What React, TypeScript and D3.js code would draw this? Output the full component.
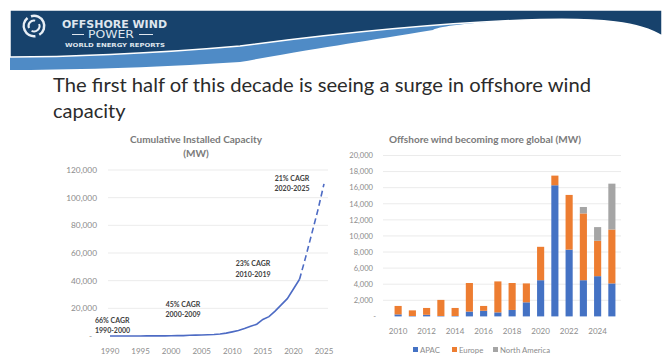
import React from "react";
import * as d3 from "d3";

// ---------- data ----------
const cumYears = [1990,1991,1992,1993,1994,1995,1996,1997,1998,1999,2000,2001,2002,2003,2004,2005,2006,2007,2008,2009,2010,2011,2012,2013,2014,2015,2016,2017,2018,2019,2020,2021];
const cumValues = [0,10,20,30,40,50,60,80,90,100,150,250,300,550,650,700,900,1100,1500,2100,3000,4000,5400,7000,8500,12000,14000,18000,22500,27000,34000,41000];
const forecastYears = [2021,2022,2023,2024,2025];
const forecastValues = [41000,57000,74000,91000,110000];
const leftYTicks = [0,20000,40000,60000,80000,100000,120000];
const leftXTicks = [1990,1995,2000,2005,2010,2015,2020,2025];
const cagrLabels = [
  { l1: "66% CAGR", l2: "1990-2000" },
  { l1: "45% CAGR", l2: "2000-2009" },
  { l1: "23% CAGR", l2: "2010-2019" },
  { l1: "21% CAGR", l2: "2020-2025" },
];

const barYears = [2010,2011,2012,2013,2014,2015,2016,2017,2018,2019,2020,2021,2022,2023,2024,2025];
const apac =   [250,50,200,50,50,600,700,500,800,1750,4500,16300,8300,4500,5000,4100];
const europe = [1050,700,850,2000,1000,3550,600,3850,3350,2350,4150,1200,6800,8300,4400,6700];
const northAmerica = [0,0,0,0,0,0,0,0,0,0,0,0,0,800,1700,5700];
const rightYTicks = [0,2000,4000,6000,8000,10000,12000,14000,16000,18000,20000];
const rightXTicks = [2010,2012,2014,2016,2018,2020,2022,2024];
const seriesNames = ["APAC","Europe","North America"];
const seriesColors = ["#4472C4","#ED7D31","#A5A5A5"];

const FONT = "Lato, 'Open Sans', sans-serif";
const fmt = d3.format(",");

export default function App() {
  // left chart scales
  const lx = d3.scaleLinear().domain([1990, 2025]).range([110, 324]);
  const ly = d3.scaleLinear().domain([0, 120000]).range([336, 170]);
  const line = d3.line<[number, number]>().x(d => lx(d[0])).y(d => ly(d[1]));
  const solid = line(cumYears.map((y, i) => [y, cumValues[i]] as [number, number]));
  const dashed = line(forecastYears.map((y, i) => [y, forecastValues[i]] as [number, number]));

  // right chart scales
  const bx = d3.scaleBand<number>().domain(barYears).range([391, 619]).paddingInner(0.5).paddingOuter(0.25);
  const by = d3.scaleLinear().domain([0, 20000]).range([316.4, 155.5]);
  const table = barYears.map((yr, i) => ({ year: yr, APAC: apac[i], Europe: europe[i], "North America": northAmerica[i] }));
  const stacks = d3.stack<any>().keys(seriesNames)(table);

  const cagrPos = [
    { x: 95, y: 320, anchor: "start" },
    { x: 183, y: 304, anchor: "middle" },
    { x: 253, y: 263.5, anchor: "middle" },
    { x: 292, y: 178, anchor: "middle" },
  ];

  return (
    <svg width={665} height={356} style={{ position: "absolute", left: 0, top: 0, background: "#fff" }} fontFamily={FONT}>
      {/* header banner */}
      <path d="M10,52 C60,52 150,50 240,44 C330,36 440,20 530,18 L560,18 C470,22 440,26 433,30 C360,42 330,46 240,62 C150,68 60,70 10,70 Z" fill="#4f8bc6" />
      <path d="M10,10 L662,10 L662,36 C640,22 600,18 540,19.5 C450,22 340,33 240,46 C150,54 60,57 10,57 Z" fill="#17426c" stroke="#ffffff" strokeWidth={1.5} />
      {/* logo */}
      <g transform="translate(34,26)">
        <path d={d3.arc()({ innerRadius: 9, outerRadius: 11.5, startAngle: -0.3, endAngle: 2.6 } as any) || ""} fill="#e8eef5" />
        <path d={d3.arc()({ innerRadius: 9, outerRadius: 11.5, startAngle: 3.0, endAngle: 5.6 } as any) || ""} fill="#e8eef5" />
        <path d={d3.arc()({ innerRadius: 4.5, outerRadius: 6.5, startAngle: 1.2, endAngle: 3.6 } as any) || ""} fill="#e8eef5" />
        <path d={d3.arc()({ innerRadius: 4.5, outerRadius: 6.5, startAngle: 4.3, endAngle: 6.5 } as any) || ""} fill="#e8eef5" />
      </g>
      <text x={62} y={28} fill="#dfe6ee" fontSize={10.5} fontWeight={700} textLength={105} lengthAdjust="spacingAndGlyphs" fontFamily="'DejaVu Sans', sans-serif">OFFSHORE WIND</text>
      <line x1={72} x2={84} y1={34.5} y2={34.5} stroke="#dfe6ee" strokeWidth={1} />
      <line x1={139} x2={153} y1={34.5} y2={34.5} stroke="#dfe6ee" strokeWidth={1} />
      <text x={88} y={38} fill="#dfe6ee" fontSize={10} textLength={46} lengthAdjust="spacingAndGlyphs" fontFamily="'DejaVu Sans', sans-serif">POWER</text>
      <text x={65} y={46.5} fill="#dfe6ee" fontSize={5.5} fontWeight={700} textLength={100} lengthAdjust="spacingAndGlyphs" fontFamily="'DejaVu Sans', sans-serif">WORLD ENERGY REPORTS</text>

      {/* slide title */}
      <text x={53} y={92} fontSize={20} fill="#2b2b2b" textLength={538} lengthAdjust="spacingAndGlyphs">The first half of this decade is seeing a surge in offshore wind</text>
      <text x={53} y={118} fontSize={20} fill="#2b2b2b">capacity</text>

      {/* ---------- left chart ---------- */}
      <text x={196} y={142.5} textAnchor="middle" fontSize={10} fontWeight={700} fill="#7a7a7a">Cumulative Installed Capacity</text>
      <text x={196} y={156.5} textAnchor="middle" fontSize={10} fontWeight={700} fill="#7a7a7a">(MW)</text>
      {leftYTicks.map(t => (
        <g key={"lg" + t}>
          {t > 0 && <line x1={108} x2={328} y1={ly(t)} y2={ly(t)} stroke="#e6e6e6" strokeWidth={0.8} />}
          <text x={t === 0 ? 92 : 97} y={ly(t) + 3} textAnchor="end" fontSize={8.3} fill="#8c8c8c">{t === 0 ? "-" : fmt(t)}</text>
        </g>
      ))}
      {leftXTicks.map(t => (
        <text key={"lx" + t} x={lx(t)} y={353.5} textAnchor="middle" fontSize={8} fill="#8c8c8c">{t}</text>
      ))}
      <path d={solid || ""} fill="none" stroke="#4d6bc4" strokeWidth={1.6} />
      <path d={dashed || ""} fill="none" stroke="#4d6bc4" strokeWidth={1.6} strokeDasharray="6,3.5" />
      {cagrLabels.map((c, i) => (
        <g key={"cg" + i}>
          <text x={cagrPos[i].x} y={cagrPos[i].y + 2.5} textAnchor={cagrPos[i].anchor as any} fontSize={7} fontWeight={700} fill="#404040">{c.l1}</text>
          <text x={cagrPos[i].x} y={cagrPos[i].y + 13} textAnchor={cagrPos[i].anchor as any} fontSize={7} fontWeight={700} fill="#404040">{c.l2}</text>
        </g>
      ))}

      {/* ---------- right chart ---------- */}
      <text x={485} y={142.5} textAnchor="middle" fontSize={10} fontWeight={700} fill="#7a7a7a">Offshore wind becoming more global (MW)</text>
      {rightYTicks.map(t => (
        <g key={"rg" + t}>
          {t > 0 && <line x1={383} x2={621} y1={by(t)} y2={by(t)} stroke="#e6e6e6" strokeWidth={0.8} />}
          <text x={t === 0 ? 376 : 373} y={by(t) + 2.8} textAnchor="end" fontSize={7.6} fill="#8c8c8c">{t === 0 ? "-" : fmt(t)}</text>
        </g>
      ))}
      {stacks.map((s, si) => (
        <g key={"s" + si} fill={seriesColors[si]}>
          {s.map((d: any) => (
            d[1] - d[0] > 0 ? (
              <rect key={d.data.year} x={bx(d.data.year)} width={bx.bandwidth()} y={by(d[1])} height={by(d[0]) - by(d[1])} />
            ) : null
          ))}
        </g>
      ))}
      {rightXTicks.map(t => (
        <text key={"rx" + t} x={(bx(t) || 0) + bx.bandwidth() / 2} y={333.5} textAnchor="middle" fontSize={8} fill="#8c8c8c">{t}</text>
      ))}
      {/* legend */}
      {seriesNames.map((n, i) => {
        const lxs = [413, 452, 493];
        return (
          <g key={"lg" + n}>
            <rect x={lxs[i]} y={347} width={5} height={5} fill={seriesColors[i]} />
            <text x={lxs[i] + 7} y={352.5} fontSize={7.8} fill="#8c8c8c">{n}</text>
          </g>
        );
      })}
    </svg>
  );
}
